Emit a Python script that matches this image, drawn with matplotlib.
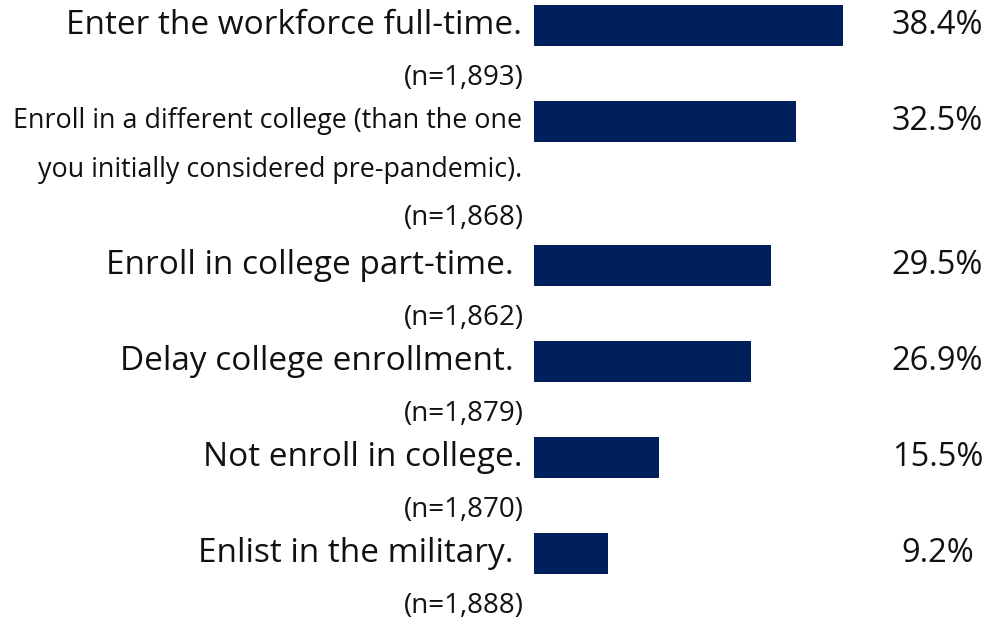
import matplotlib.pyplot as plt
from matplotlib.transforms import offset_copy

plt.rcParams['font.family'] = ['Open Sans', 'DejaVu Sans']

# survey answers, top to bottom
labels = [
    "Enter the workforce full-time.",
    "Enroll in a different college (than the one\nyou initially considered pre-pandemic).",
    "Enroll in college part-time.",
    "Delay college enrollment.",
    "Not enroll in college.",
    "Enlist in the military.",
]
counts = ["(n=1,893)", "(n=1,868)", "(n=1,862)", "(n=1,879)", "(n=1,870)", "(n=1,888)"]
values = [38.4, 32.5, 29.5, 26.9, 15.5, 9.2]

label_sizes = [24, 19.4, 24, 24, 24, 24]
label_gap = [12, 12, 20, 20, 11, 20]
bar_color = "#00205B"
text_color = "#111111"

# vertical layout in pixels: each text line takes ~48 px
ypos = []
y = 25
for lab in labels:
    ypos.append(y)
    y += 48 * (len(lab.split("\n")) + 1)

fig = plt.figure(figsize=(9.85, 6.2), dpi=100)
# axes starts where the bars start; 1% = ~8.05 px
ax = fig.add_axes([534 / 985, 0, 402.5 / 985, 1])
ax.set_xlim(0, 50)
ax.set_ylim(620, 0)
ax.axis("off")

ax.barh(ypos, values, height=41, color=bar_color)

for i, (lab, n, v) in enumerate(zip(labels, counts, values)):
    lines = lab.split("\n")
    for k, line in enumerate(lines):
        tr = offset_copy(ax.transData, fig=fig, x=-label_gap[i], y=-49 * k, units="dots")
        ax.text(0, ypos[i], line, transform=tr, ha="right", va="center",
                fontsize=label_sizes[i], color=text_color)
    n_off = 53 if len(lines) == 1 else 97
    tr = offset_copy(ax.transData, fig=fig, x=-10, y=-n_off, units="dots")
    ax.text(0, ypos[i], n, transform=tr, ha="right", va="center",
            fontsize=20, color=text_color)
    ax.text(50.1, ypos[i], f"{v:.1f}%", ha="center", va="center",
            fontsize=23.5, color=text_color)

fig.savefig("out.png", dpi=100)
